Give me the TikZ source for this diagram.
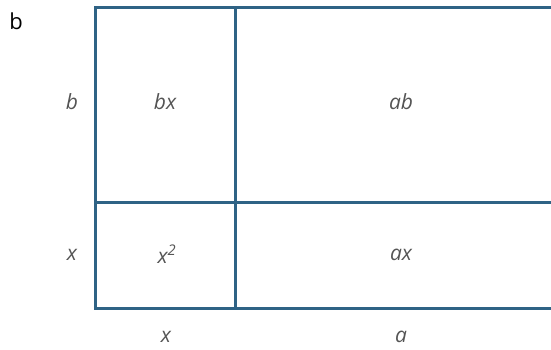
\documentclass[tikz,border=0pt]{standalone}
\usepackage{fontspec}
\setmainfont{Open Sans}
\begin{document}
\begin{tikzpicture}[x=1pt,y=-1pt,
  grid/.style={draw=gridblue,line width=3pt},
  lbl/.style={text=labelgray,font=\fontsize{21}{24}\selectfont\itshape,inner sep=0pt},
  tag/.style={text=black,font=\fontsize{22}{25}\selectfont,inner sep=0pt}]
\definecolor{gridblue}{HTML}{2F6385}
\definecolor{labelgray}{HTML}{555555}
\useasboundingbox (0,0) rectangle (551,349);
\coordinate (tl) at (95,7);
\coordinate (tr) at (552,7);
\coordinate (bl) at (95,308);
\coordinate (br) at (552,308);
\coordinate (vt) at (235,7);
\coordinate (vb) at (235,308);
\coordinate (hl) at (95,202);
\coordinate (hr) at (552,202);
\draw[grid,line cap=rect] (tr) -- (tl) -- (bl) -- (br);
\draw[grid] (vt) -- (vb);
\draw[grid] (hl) -- (hr);
\node[tag] (t) at (16,21) {b};
\node[lbl] (lb) at (72,102) {b};
\node[lbl] (lx) at (72,255) {x};
\node[lbl] (bx) at (165,102) {bx};
\node[lbl] (ab) at (401,102) {ab};
\node[lbl] (x2) at (167,254) {x\textsuperscript{2}};
\node[lbl] (ax) at (401,255) {ax};
\node[lbl] (bxl) at (166,337) {x};
\node[lbl] (bal) at (401,337) {a};
\end{tikzpicture}
\end{document}
